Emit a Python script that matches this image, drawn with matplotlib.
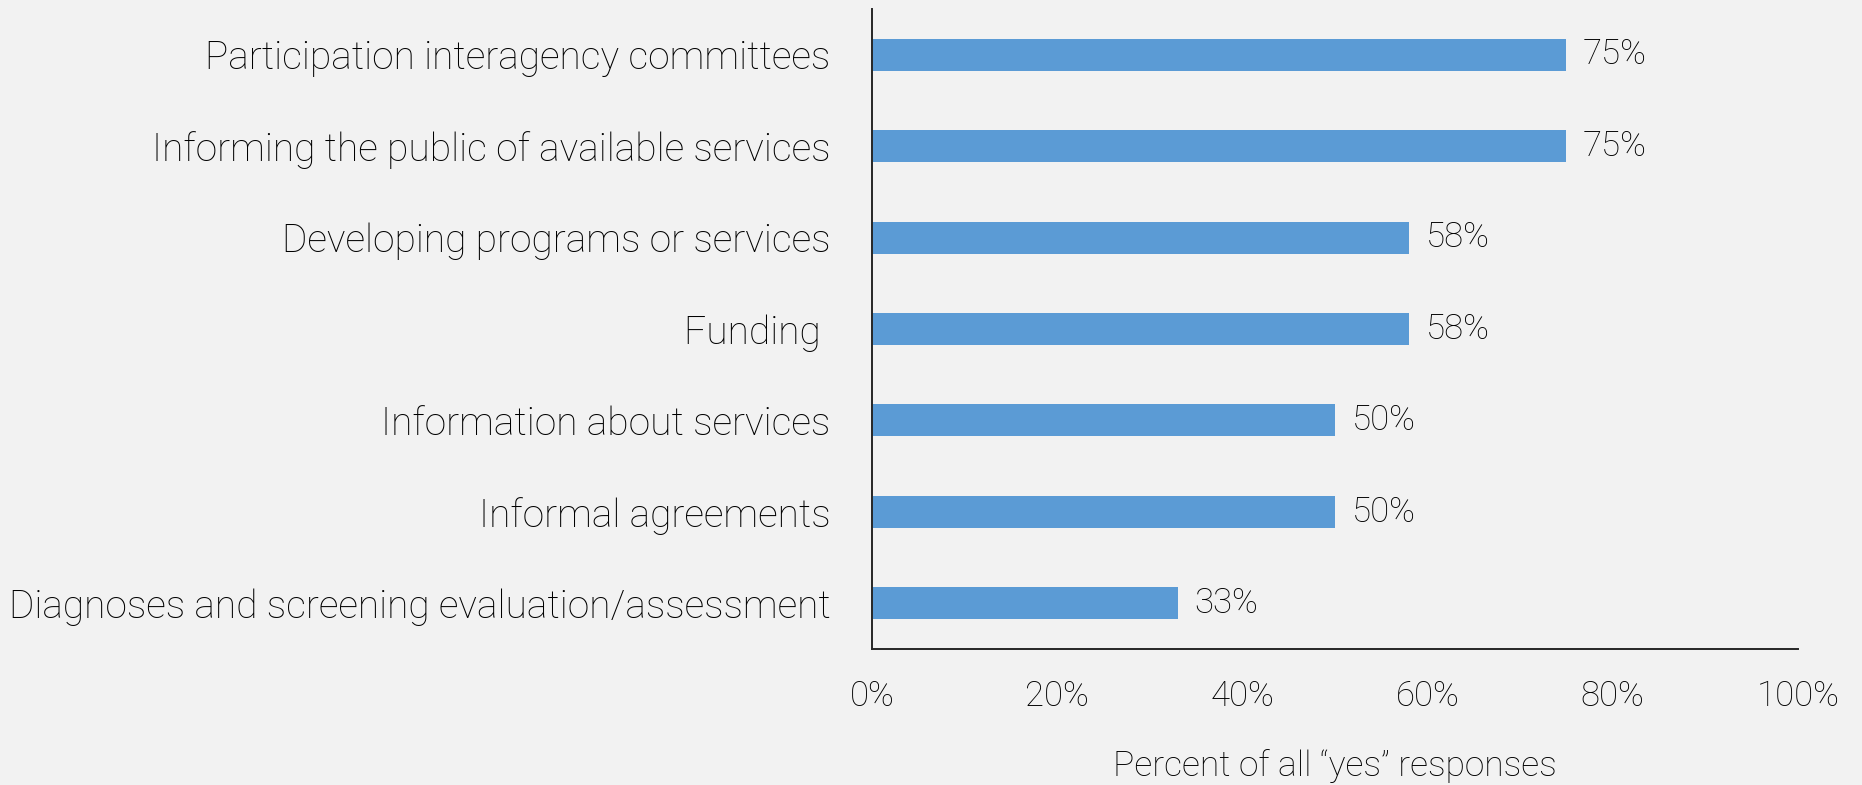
import matplotlib.pyplot as plt
from matplotlib.ticker import PercentFormatter

# =========================
# Survey results
# =========================

categories = [
    "Participation interagency committees",
    "Informing the public of available services",
    "Developing programs or services",
    "Funding ",
    "Information about services",
    "Informal agreements",
    "Diagnoses and screening evaluation/assessment",
]
percent_yes = [75, 75, 58, 58, 50, 50, 33]
x_ticks = [0, 20, 40, 60, 80, 100]

bg = "#F2F2F2"
bar_color = "#5B9BD5"
text_color = "#000000"

plt.rcParams["font.family"] = ["Roboto", "DejaVu Sans"]
plt.rcParams["font.weight"] = "light"
plt.rcParams["axes.labelweight"] = "light"

fig = plt.figure(figsize=(18.62, 7.85), dpi=100, facecolor=bg)
ax = fig.add_axes([0.4683, 0.1732, 0.4973, 0.8153], facecolor=bg)

positions = list(range(len(categories)))
ax.barh(positions, percent_yes, height=0.35, color=bar_color)

# value labels just past the end of each bar
for pos, val in zip(positions, percent_yes):
    ax.text(val + 1.8, pos, f"{val}%", va="center", ha="left",
            fontsize=25, color=text_color)

ax.set_xlim(0, 100)
ax.set_ylim(len(categories) - 0.5, -0.5)
ax.set_xticks(x_ticks)
ax.xaxis.set_major_formatter(PercentFormatter(decimals=0))
ax.set_yticks(positions)
ax.set_yticklabels(categories)

ax.tick_params(axis="y", length=0, pad=30, labelsize=28, labelcolor=text_color)
ax.tick_params(axis="x", length=0, pad=22, labelsize=25, labelcolor=text_color)

for side in ["top", "right"]:
    ax.spines[side].set_visible(False)
for side in ["left", "bottom"]:
    ax.spines[side].set_color("#262626")
    ax.spines[side].set_linewidth(1.4)

ax.set_xlabel("Percent of all \u201cyes\u201d responses", fontsize=25.5,
              color=text_color, labelpad=26)

plt.savefig("out.png", dpi=100, facecolor=bg)
